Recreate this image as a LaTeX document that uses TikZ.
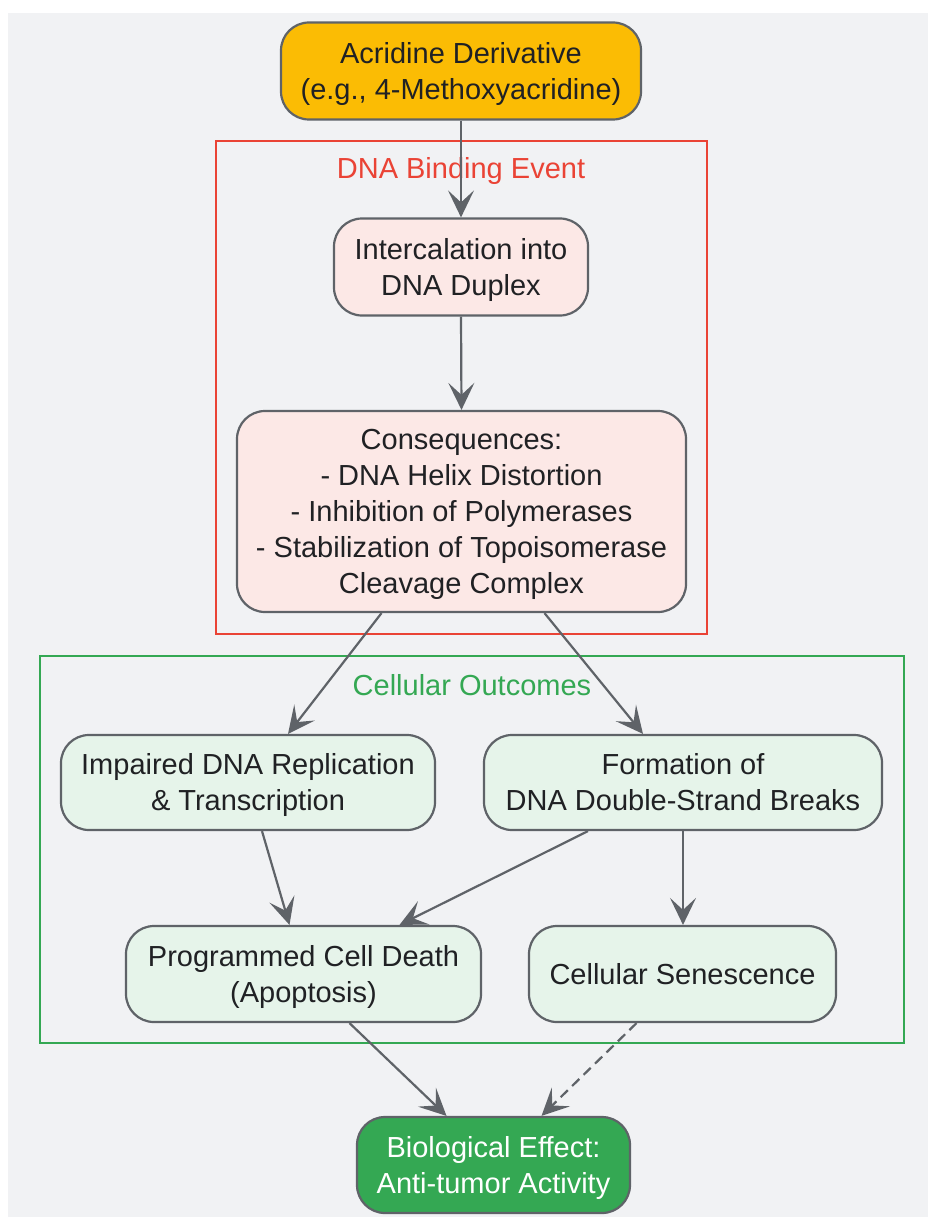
\documentclass[tikz,border=0pt]{standalone}
\usepackage{fontspec}
\setmainfont{Liberation Sans}
\usetikzlibrary{arrows.meta,calc}
\definecolor{bgc}{HTML}{F1F2F4}
\definecolor{edgec}{HTML}{5F6368}
\definecolor{txt}{HTML}{202124}
\definecolor{yel}{HTML}{FBBC04}
\definecolor{pinkf}{HTML}{FCE8E6}
\definecolor{greenf}{HTML}{E6F4EA}
\definecolor{gstrong}{HTML}{34A853}
\definecolor{rstrong}{HTML}{EA4335}
\newcommand\topstrut{\rule{0pt}{28pt}}
\newcommand\botstrut{\rule[-7.2pt]{0pt}{7.2pt}}
\tikzset{
  box/.style={draw=edgec, line width=2.2pt, rounded corners=28pt, align=center, text=txt,
    font=\fontsize{29}{36}\selectfont, inner sep=0pt},
  conn/.style={draw=edgec, line width=2.2pt, -{Stealth[length=27pt,width=26pt,inset=12pt]}},
  frame/.style={line width=2pt},
  flabel/.style={font=\fontsize{29}{36}\selectfont}
}
\begin{document}
\begin{tikzpicture}[x=1pt,y=-1pt]
\useasboundingbox (0,0) rectangle (928,1217);
\fill[bgc] (8,13) rectangle (928,1217);
% frames
\draw[frame, rstrong] (216,141) rectangle (707,634);
\node[flabel, text=rstrong] (lbl1) at (461,171) {DNA Binding Event};
\draw[frame, gstrong] (40,656) rectangle (904,1043);
\node[flabel, text=gstrong] (lbl2) at (472,685) {Cellular Outcomes};
% nodes
\node[box, fill=yel, minimum width=360pt, minimum height=97pt] (a) at (461,71) {\topstrut Acridine Derivative\\(e.g., 4-Methoxyacridine)\botstrut};
\node[box, fill=pinkf, minimum width=254pt, minimum height=97pt] (b) at (461,267) {\topstrut Intercalation into\\DNA Duplex\botstrut};
\node[box, fill=pinkf, minimum width=449pt, minimum height=201pt] (c) at (461.5,511.5) {\topstrut Consequences:\\- DNA Helix Distortion\\- Inhibition of Polymerases\\- Stabilization of Topoisomerase\\Cleavage Complex\botstrut};
\node[box, fill=greenf, minimum width=374pt, minimum height=95pt] (imp) at (248,782.5) {\topstrut Impaired DNA Replication\\\& Transcription\botstrut};
\node[box, fill=greenf, minimum width=398pt, minimum height=95pt] (form) at (683,782.5) {\topstrut Formation of\\DNA Double-Strand Breaks\botstrut};
\node[box, fill=greenf, minimum width=355pt, minimum height=96pt] (prog) at (303.5,974) {\topstrut Programmed Cell Death\\(Apoptosis)\botstrut};
\node[box, fill=greenf, minimum width=307pt, minimum height=96pt] (sen) at (682.5,974) {\topstrut Cellular Senescence\botstrut};
\node[box, fill=gstrong, text=white, minimum width=273pt, minimum height=96pt] (bio) at (493.5,1165) {\topstrut Biological Effect:\\Anti-tumor Activity\botstrut};
% connectors
\draw[conn] (a.south) -- (b.north);
\draw[conn] (b.south) -- (c.north);
\draw[conn] ([xshift=-80pt]c.south) -- ([xshift=40pt]imp.north);
\draw[conn] ([xshift=83pt]c.south) -- ([xshift=-40pt]form.north);
\draw[conn] ([xshift=14pt]imp.south) -- ([xshift=-14pt]prog.north);
\draw[conn] ([xshift=-95pt]form.south) -- ([xshift=96pt]prog.north);
\draw[conn] (form.south) -- (form.south |- sen.north);
\draw[conn] ([xshift=46pt]prog.south) -- ([xshift=-47pt]bio.north);
\draw[conn, dash pattern=on 10pt off 6pt] ([xshift=-46pt]sen.south) -- ([xshift=48pt]bio.north);
\end{tikzpicture}
\end{document}
